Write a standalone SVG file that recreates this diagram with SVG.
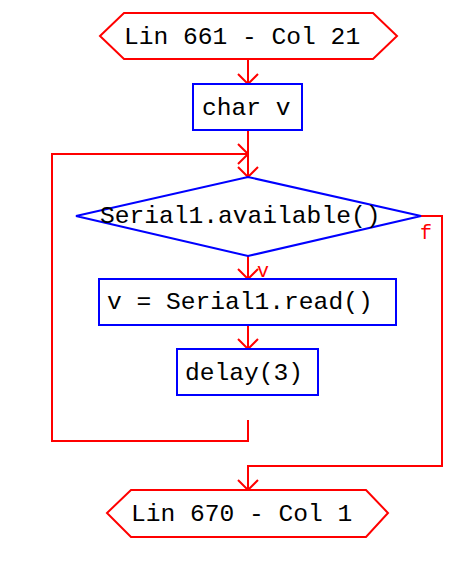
<svg xmlns="http://www.w3.org/2000/svg" width="476" height="572" viewBox="0 0 476 572">
<defs>
<style>
.term{fill:#fff;stroke:#ff0000;stroke-width:2}
.proc{fill:#fff;stroke:#0000ff;stroke-width:2}
.t{font-family:"Liberation Mono","Courier New",monospace;font-size:24.6px;fill:#000}
.lbl{font-family:"Liberation Mono","Courier New",monospace;font-size:20px;fill:#ff0000}
.c{fill:none;stroke:#ff0000;stroke-width:2}
</style>
<marker id="ah" viewBox="0 0 12 22" refX="11" refY="11" markerWidth="12" markerHeight="22" markerUnits="userSpaceOnUse" orient="auto">
<path d="M1,1 L11,11 L1,21" fill="none" stroke="#ff0000" stroke-width="2"/>
</marker>
</defs>
<g id="connectors">
<path class="c" d="M248,59 V84" marker-end="url(#ah)"/>
<path class="c" d="M248,131 V177" marker-end="url(#ah)"/>
<path class="c" d="M248,256 V279" marker-end="url(#ah)"/>
<path class="c" d="M248,326 V349" marker-end="url(#ah)"/>
<path class="c" d="M248,420 V441 H52 V154 H248" marker-end="url(#ah)"/>
<path class="c" d="M421,216 H442 V466 H248 V490" marker-end="url(#ah)"/>
<text class="lbl" x="257" y="277">v</text>
<text class="lbl" x="420" y="239">f</text>
</g>
<g id="start">
<polygon class="term" points="100,36 124,13 373,13 397,36 373,59 124,59"/>
<text class="t" x="124" y="44">Lin 661 - Col 21</text>
</g>
<g id="decl">
<rect class="proc" x="193" y="84" width="109" height="46"/>
<text class="t" x="202" y="115">char v</text>
</g>
<g id="cond">
<polygon class="proc" points="76,216 248,177 421,216 248,256"/>
<text class="t" x="100" y="223">Serial1.available()</text>
</g>
<g id="read">
<rect class="proc" x="99" y="279" width="297" height="46"/>
<text class="t" x="107" y="309">v = Serial1.read()</text>
</g>
<g id="delay">
<rect class="proc" x="177" y="349" width="141" height="46"/>
<text class="t" x="185" y="380">delay(3)</text>
</g>
<g id="end">
<polygon class="term" points="107,513 131,490 366,490 388,513 366,537 131,537"/>
<text class="t" x="131" y="521">Lin 670 - Col 1</text>
</g>
</svg>
